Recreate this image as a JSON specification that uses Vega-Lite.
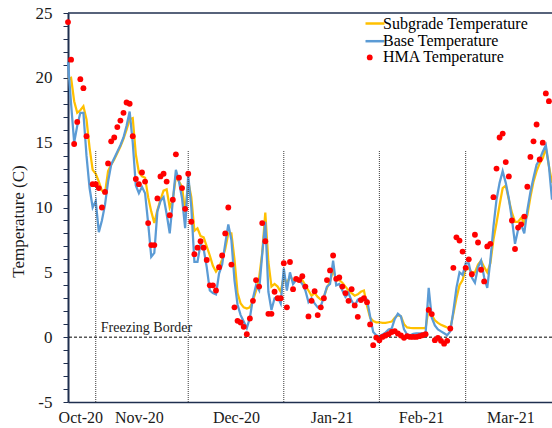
{
  "$schema": "https://vega.github.io/schema/vega-lite/v6.json",
  "width": 484,
  "height": 389,
  "autosize": {"type": "none"},
  "padding": {"left": 68, "top": 13, "right": 0, "bottom": 26},
  "background": "white",
  "config": {
    "font": "Liberation Serif",
    "view": {"stroke": null},
    "axis": {"grid": false, "labelFont": "Liberation Serif", "titleFont": "Liberation Serif", "labelColor": "#1a1a1a", "titleColor": "#1a1a1a", "domainColor": "#1f2f4f", "tickColor": "#1f2f4f", "labelFlush": false},
    "axisX": {"ticks": false, "domainWidth": 1.5, "labelFontSize": 16, "labelPadding": 7},
    "axisY": {"tickSize": 5, "tickWidth": 1, "domainWidth": 2, "labelFontSize": 17, "labelPadding": 11, "titleFontSize": 17, "titleFontWeight": "normal", "titlePadding": 8},
    "legend": {"labelFont": "Liberation Serif", "labelFontSize": 16, "labelColor": "#000000", "padding": 0, "orient": "none", "title": null}
  },
  "data": {"values": [
    {"date": "2020-10-23", "subgrade": 19.9, "base": 21.2, "hma": 24.3},
    {"date": "2020-10-24", "subgrade": 20.0, "base": 18.0, "hma": 21.4},
    {"date": "2020-10-25", "subgrade": 18.2, "base": 15.0, "hma": 14.9},
    {"date": "2020-10-26", "subgrade": 17.3, "base": 16.3, "hma": 16.6},
    {"date": "2020-10-27", "subgrade": 17.5, "base": 17.3, "hma": 19.9},
    {"date": "2020-10-28", "subgrade": 17.8, "base": 17.3, "hma": 19.2},
    {"date": "2020-10-29", "subgrade": 16.8, "base": 14.0, "hma": 15.5},
    {"date": "2020-10-30", "subgrade": 14.6, "base": 11.5, "hma": null},
    {"date": "2020-10-31", "subgrade": 12.9, "base": 10.0, "hma": 11.8},
    {"date": "2020-11-01", "subgrade": 12.6, "base": 10.5, "hma": 11.8},
    {"date": "2020-11-02", "subgrade": 12.0, "base": 8.1, "hma": 11.5},
    {"date": "2020-11-03", "subgrade": 11.3, "base": 9.0, "hma": 10.0},
    {"date": "2020-11-04", "subgrade": 11.1, "base": 10.2, "hma": 11.2},
    {"date": "2020-11-05", "subgrade": 12.8, "base": 12.0, "hma": 13.4},
    {"date": "2020-11-06", "subgrade": 13.3, "base": 13.3, "hma": 15.1},
    {"date": "2020-11-07", "subgrade": 13.7, "base": 13.8, "hma": 15.4},
    {"date": "2020-11-08", "subgrade": 14.2, "base": 14.3, "hma": 16.2},
    {"date": "2020-11-09", "subgrade": 14.7, "base": 14.8, "hma": 16.7},
    {"date": "2020-11-10", "subgrade": 15.3, "base": 15.4, "hma": 17.3},
    {"date": "2020-11-11", "subgrade": 16.0, "base": 16.3, "hma": 18.1},
    {"date": "2020-11-12", "subgrade": 16.8, "base": 17.4, "hma": 18.0},
    {"date": "2020-11-13", "subgrade": 16.9, "base": 15.0, "hma": 15.5},
    {"date": "2020-11-14", "subgrade": 14.1, "base": 11.7, "hma": 12.2},
    {"date": "2020-11-15", "subgrade": 12.7, "base": 11.1, "hma": 11.8},
    {"date": "2020-11-16", "subgrade": 12.4, "base": 11.6, "hma": 12.7},
    {"date": "2020-11-17", "subgrade": 12.3, "base": 11.1, "hma": 12.0},
    {"date": "2020-11-18", "subgrade": 10.8, "base": 8.8, "hma": 8.8},
    {"date": "2020-11-19", "subgrade": 9.7, "base": 6.2, "hma": 7.1},
    {"date": "2020-11-20", "subgrade": 8.8, "base": 6.5, "hma": 7.1},
    {"date": "2020-11-21", "subgrade": 9.8, "base": 9.7, "hma": 10.7},
    {"date": "2020-11-22", "subgrade": 10.6, "base": 10.5, "hma": 12.4},
    {"date": "2020-11-23", "subgrade": 11.3, "base": 10.8, "hma": 12.6},
    {"date": "2020-11-24", "subgrade": 11.4, "base": 9.5, "hma": 12.0},
    {"date": "2020-11-25", "subgrade": 10.0, "base": 8.0, "hma": 9.4},
    {"date": "2020-11-26", "subgrade": 10.6, "base": 10.5, "hma": 10.6},
    {"date": "2020-11-27", "subgrade": 12.4, "base": 12.9, "hma": 14.1},
    {"date": "2020-11-28", "subgrade": 12.0, "base": 12.0, "hma": 12.3},
    {"date": "2020-11-29", "subgrade": 11.6, "base": 10.7, "hma": 11.5},
    {"date": "2020-11-30", "subgrade": 9.6, "base": 8.4, "hma": 9.9},
    {"date": "2020-12-01", "subgrade": 12.0, "base": 12.5, "hma": 12.6},
    {"date": "2020-12-02", "subgrade": 10.8, "base": 10.0, "hma": 8.9},
    {"date": "2020-12-03", "subgrade": 8.2, "base": 5.8, "hma": 6.4},
    {"date": "2020-12-04", "subgrade": 8.4, "base": 5.8, "hma": 6.9},
    {"date": "2020-12-05", "subgrade": 7.8, "base": 7.2, "hma": 7.4},
    {"date": "2020-12-06", "subgrade": 7.7, "base": 6.8, "hma": 6.9},
    {"date": "2020-12-07", "subgrade": 7.0, "base": 5.4, "hma": 5.95},
    {"date": "2020-12-08", "subgrade": 6.3, "base": 3.6, "hma": 4.0},
    {"date": "2020-12-09", "subgrade": 5.5, "base": 3.4, "hma": 4.0},
    {"date": "2020-12-10", "subgrade": 5.05, "base": 3.3, "hma": 3.6},
    {"date": "2020-12-11", "subgrade": 5.4, "base": 4.9, "hma": 5.4},
    {"date": "2020-12-12", "subgrade": 6.0, "base": 5.6, "hma": 6.3},
    {"date": "2020-12-13", "subgrade": 6.8, "base": 7.2, "hma": 8.0},
    {"date": "2020-12-14", "subgrade": 8.0, "base": 8.7, "hma": 10.0},
    {"date": "2020-12-15", "subgrade": 8.0, "base": 7.5, "hma": 5.6},
    {"date": "2020-12-16", "subgrade": 6.0, "base": 4.4, "hma": 2.3},
    {"date": "2020-12-17", "subgrade": 3.4, "base": 2.5, "hma": 1.26},
    {"date": "2020-12-18", "subgrade": 2.6, "base": 1.7, "hma": 1.13},
    {"date": "2020-12-19", "subgrade": 2.3, "base": 1.2, "hma": 0.8},
    {"date": "2020-12-20", "subgrade": 2.2, "base": 0.7, "hma": 0.23},
    {"date": "2020-12-21", "subgrade": 2.3, "base": 1.5, "hma": 1.44},
    {"date": "2020-12-22", "subgrade": 2.8, "base": 3.0, "hma": 2.8},
    {"date": "2020-12-23", "subgrade": 3.6, "base": 4.0, "hma": 4.4},
    {"date": "2020-12-24", "subgrade": 4.6, "base": 3.6, "hma": 3.9},
    {"date": "2020-12-25", "subgrade": 6.5, "base": 6.4, "hma": 8.8},
    {"date": "2020-12-26", "subgrade": 9.6, "base": 8.9, "hma": 7.4},
    {"date": "2020-12-27", "subgrade": 5.8, "base": 3.5, "hma": 1.8},
    {"date": "2020-12-28", "subgrade": 3.9, "base": 2.1, "hma": 1.8},
    {"date": "2020-12-29", "subgrade": 4.1, "base": 3.0, "hma": 3.5},
    {"date": "2020-12-30", "subgrade": 3.9, "base": 3.1, "hma": 3.0},
    {"date": "2020-12-31", "subgrade": 3.5, "base": 2.6, "hma": 3.0},
    {"date": "2021-01-01", "subgrade": 4.7, "base": 5.3, "hma": 5.7},
    {"date": "2021-01-02", "subgrade": 4.1, "base": 3.6, "hma": 2.3},
    {"date": "2021-01-03", "subgrade": 4.7, "base": 5.0, "hma": 5.8},
    {"date": "2021-01-04", "subgrade": 4.4, "base": 4.1, "hma": 3.7},
    {"date": "2021-01-05", "subgrade": 4.4, "base": 4.4, "hma": 4.5},
    {"date": "2021-01-06", "subgrade": 4.5, "base": 4.4, "hma": 4.4},
    {"date": "2021-01-07", "subgrade": 4.4, "base": 4.1, "hma": 4.7},
    {"date": "2021-01-08", "subgrade": 4.0, "base": 3.6, "hma": 3.9},
    {"date": "2021-01-09", "subgrade": 3.6, "base": 2.7, "hma": 1.6},
    {"date": "2021-01-10", "subgrade": 3.2, "base": 3.0, "hma": 2.8},
    {"date": "2021-01-11", "subgrade": 3.4, "base": 2.6, "hma": 3.55},
    {"date": "2021-01-12", "subgrade": 3.1, "base": 2.3, "hma": 1.7},
    {"date": "2021-01-13", "subgrade": 2.9, "base": 2.4, "hma": 2.3},
    {"date": "2021-01-14", "subgrade": 3.1, "base": 3.1, "hma": 3.0},
    {"date": "2021-01-15", "subgrade": 3.8, "base": 3.9, "hma": 4.4},
    {"date": "2021-01-16", "subgrade": 4.3, "base": 4.1, "hma": 5.15},
    {"date": "2021-01-17", "subgrade": 5.2, "base": 5.9, "hma": 6.3},
    {"date": "2021-01-18", "subgrade": 4.4, "base": 4.0, "hma": 4.5},
    {"date": "2021-01-19", "subgrade": 4.4, "base": 4.1, "hma": 4.6},
    {"date": "2021-01-20", "subgrade": 4.2, "base": 3.6, "hma": 3.9},
    {"date": "2021-01-21", "subgrade": 3.9, "base": 3.1, "hma": 3.4},
    {"date": "2021-01-22", "subgrade": 3.6, "base": 3.4, "hma": 2.8},
    {"date": "2021-01-23", "subgrade": 3.4, "base": 2.8, "hma": 3.7},
    {"date": "2021-01-24", "subgrade": 3.2, "base": 2.4, "hma": 2.45},
    {"date": "2021-01-25", "subgrade": 3.3, "base": 2.9, "hma": 1.57},
    {"date": "2021-01-26", "subgrade": 3.5, "base": 3.0, "hma": 2.86},
    {"date": "2021-01-27", "subgrade": 3.6, "base": 3.0, "hma": 3.0},
    {"date": "2021-01-28", "subgrade": 2.4, "base": 2.9, "hma": 2.7},
    {"date": "2021-01-29", "subgrade": 1.5, "base": 1.6, "hma": 0.98},
    {"date": "2021-01-30", "subgrade": 1.25, "base": 0.4, "hma": -0.62},
    {"date": "2021-01-31", "subgrade": 1.15, "base": 0.15, "hma": -0.03},
    {"date": "2021-02-01", "subgrade": 1.15, "base": 0.05, "hma": -0.23},
    {"date": "2021-02-02", "subgrade": 1.1, "base": 0.2, "hma": 0.02},
    {"date": "2021-02-03", "subgrade": 1.1, "base": 0.35, "hma": 0.13},
    {"date": "2021-02-04", "subgrade": 1.15, "base": 0.6, "hma": 0.23},
    {"date": "2021-02-05", "subgrade": 1.2, "base": 0.67, "hma": 0.4},
    {"date": "2021-02-06", "subgrade": 1.5, "base": 1.4, "hma": 0.46},
    {"date": "2021-02-07", "subgrade": 1.7, "base": 1.8, "hma": 0.28},
    {"date": "2021-02-08", "subgrade": 1.6, "base": 1.6, "hma": 0.13},
    {"date": "2021-02-09", "subgrade": 1.0, "base": 0.6, "hma": -0.05},
    {"date": "2021-02-10", "subgrade": 0.75, "base": 0.2, "hma": 0.08},
    {"date": "2021-02-11", "subgrade": 0.72, "base": 0.15, "hma": 0.02},
    {"date": "2021-02-12", "subgrade": 0.7, "base": 0.25, "hma": 0.02},
    {"date": "2021-02-13", "subgrade": 0.7, "base": 0.3, "hma": 0.02},
    {"date": "2021-02-14", "subgrade": 0.7, "base": 0.3, "hma": 0.08},
    {"date": "2021-02-15", "subgrade": 0.7, "base": 0.3, "hma": 0.15},
    {"date": "2021-02-16", "subgrade": 0.7, "base": 0.3, "hma": 0.23},
    {"date": "2021-02-17", "subgrade": 2.2, "base": 3.8, "hma": 2.1},
    {"date": "2021-02-18", "subgrade": 1.7, "base": 1.5, "hma": 1.78},
    {"date": "2021-02-19", "subgrade": 1.3, "base": 0.9, "hma": -0.23},
    {"date": "2021-02-20", "subgrade": 1.1, "base": 0.6, "hma": -0.05},
    {"date": "2021-02-21", "subgrade": 0.95, "base": 0.45, "hma": -0.28},
    {"date": "2021-02-22", "subgrade": 0.85, "base": 0.3, "hma": -0.5},
    {"date": "2021-02-23", "subgrade": 0.75, "base": 0.15, "hma": -0.28},
    {"date": "2021-02-24", "subgrade": 0.67, "base": 0.45, "hma": 0.67},
    {"date": "2021-02-25", "subgrade": 1.8, "base": 2.0, "hma": 5.35},
    {"date": "2021-02-26", "subgrade": 3.0, "base": 3.8, "hma": 7.7},
    {"date": "2021-02-27", "subgrade": 4.0, "base": 5.0, "hma": 7.45},
    {"date": "2021-02-28", "subgrade": 4.4, "base": 4.8, "hma": 6.6},
    {"date": "2021-03-01", "subgrade": 5.3, "base": 5.7, "hma": 5.35},
    {"date": "2021-03-02", "subgrade": 5.3, "base": 5.7, "hma": 6.0},
    {"date": "2021-03-03", "subgrade": 5.0, "base": 4.6, "hma": 4.85},
    {"date": "2021-03-04", "subgrade": 5.0, "base": 4.2, "hma": 7.9},
    {"date": "2021-03-05", "subgrade": 5.6, "base": 5.4, "hma": 7.3},
    {"date": "2021-03-06", "subgrade": 5.9, "base": 5.9, "hma": 5.2},
    {"date": "2021-03-07", "subgrade": 5.4, "base": 4.6, "hma": 4.3},
    {"date": "2021-03-08", "subgrade": 5.0, "base": 3.8, "hma": 7.0},
    {"date": "2021-03-09", "subgrade": 5.7, "base": 5.9, "hma": 7.2},
    {"date": "2021-03-10", "subgrade": 7.5, "base": 8.5, "hma": 10.8},
    {"date": "2021-03-11", "subgrade": 8.8, "base": 10.6, "hma": 13.0},
    {"date": "2021-03-12", "subgrade": 10.2, "base": 11.9, "hma": 15.4},
    {"date": "2021-03-13", "subgrade": 11.5, "base": 12.8, "hma": 15.7},
    {"date": "2021-03-14", "subgrade": 11.7, "base": 11.9, "hma": 13.5},
    {"date": "2021-03-15", "subgrade": 10.6, "base": 10.7, "hma": 12.4},
    {"date": "2021-03-16", "subgrade": 9.6, "base": 9.1, "hma": 9.0},
    {"date": "2021-03-17", "subgrade": 8.9, "base": 7.2, "hma": 6.8},
    {"date": "2021-03-18", "subgrade": 8.9, "base": 8.3, "hma": 8.45},
    {"date": "2021-03-19", "subgrade": 9.2, "base": 8.7, "hma": 8.7},
    {"date": "2021-03-20", "subgrade": 8.8, "base": 8.0, "hma": 9.3},
    {"date": "2021-03-21", "subgrade": 9.4, "base": 9.8, "hma": 11.6},
    {"date": "2021-03-22", "subgrade": 10.8, "base": 11.2, "hma": 13.9},
    {"date": "2021-03-23", "subgrade": 12.0, "base": 12.3, "hma": 15.1},
    {"date": "2021-03-24", "subgrade": 12.8, "base": 13.3, "hma": 16.4},
    {"date": "2021-03-25", "subgrade": 13.4, "base": 13.7, "hma": 13.7},
    {"date": "2021-03-26", "subgrade": 13.8, "base": 14.3, "hma": 15.0},
    {"date": "2021-03-27", "subgrade": 14.6, "base": 14.8, "hma": 18.8},
    {"date": "2021-03-28", "subgrade": 13.2, "base": 13.2, "hma": 18.2},
    {"date": "2021-03-29", "subgrade": 11.9, "base": 10.6, "hma": null}
  ]},
  "resolve": {"axis": {"y": "independent"}},
  "layer": [
    {
      "mark": {"type": "line", "strokeWidth": 2.25},
      "encoding": {
        "x": {"field": "date", "type": "temporal", "scale": {"type": "utc", "domain": [{"year": 2020, "month": 10, "date": 23, "utc": true}, {"year": 2021, "month": 3, "date": 29, "utc": true}]}, "axis": {"title": null, "format": "%b-%y", "values": [
          {"year": 2020, "month": 10, "date": 27, "utc": true},
          {"year": 2020, "month": 11, "date": 15, "utc": true},
          {"year": 2020, "month": 12, "date": 16, "hours": 12, "utc": true},
          {"year": 2021, "month": 1, "date": 16, "hours": 12, "utc": true},
          {"year": 2021, "month": 2, "date": 14, "hours": 12, "utc": true},
          {"year": 2021, "month": 3, "date": 15, "hours": 12, "utc": true}
        ]}},
        "y": {"field": "subgrade", "type": "quantitative", "scale": {"domain": [-5, 25], "nice": false, "zero": false}, "axis": {"title": "Temperature (C)", "titleY": 208, "orient": "left", "values": [-5, 0, 5, 10, 15, 20, 25], "labelExpr": "toString(datum.value)"}},
        "stroke": {"datum": "Subgrade Temperature", "scale": {"domain": ["Subgrade Temperature"], "range": ["#ffc000"]}, "legend": {
          "legendX": 296, "legendY": -0.5, "labelOffset": -3, "symbolType": "stroke", "symbolSize": 361, "symbolStrokeWidth": 2.5
        }}
      }
    },
    {
      "mark": {"type": "line", "strokeWidth": 2.25},
      "encoding": {
        "x": {"field": "date", "type": "temporal"},
        "y": {"field": "base", "type": "quantitative", "axis": {"title": null, "orient": "left", "labels": false, "domain": false, "ticks": true, "tickSize": 5, "values": [-4, -3, -2, -1, 1, 2, 3, 4, 6, 7, 8, 9, 11, 12, 13, 14, 16, 17, 18, 19, 21, 22, 23, 24]}},
        "color": {"datum": "Base Temperature", "scale": {"domain": ["Base Temperature"], "range": ["#5b9bd5"]}, "legend": {
          "legendX": 296, "legendY": 17.2, "labelOffset": -3, "symbolType": "stroke", "symbolSize": 361, "symbolStrokeWidth": 2.5
        }}
      }
    },
    {
      "data": {"values": [{"date": "2020-11-01"}, {"date": "2020-12-01"}, {"date": "2021-01-01"}, {"date": "2021-02-01"}, {"date": "2021-03-01"}]},
      "mark": {"type": "rule", "color": "#3a3a3a", "strokeDash": [1, 1], "strokeWidth": 1},
      "encoding": {
        "x": {"field": "date", "type": "temporal"},
        "y": {"datum": -5, "type": "quantitative", "axis": null},
        "y2": {"datum": 14.4}
      }
    },
    {
      "data": {"values": [{"v": 0}]},
      "mark": {"type": "rule", "color": "#000000", "strokeDash": [3, 2], "strokeWidth": 1},
      "encoding": {"y": {"field": "v", "type": "quantitative", "axis": null}}
    },
    {
      "data": {"values": [{"v": 25}]},
      "mark": {"type": "rule", "color": "#1f2f4f", "strokeWidth": 1.5},
      "encoding": {"y": {"field": "v", "type": "quantitative", "axis": null}}
    },
    {
      "data": {"values": [{"date": "2020-11-02", "v": 0, "label": "Freezing Border"}]},
      "mark": {"type": "text", "align": "left", "baseline": "alphabetic", "dx": 2, "dy": -5, "fontSize": 14, "font": "Liberation Serif", "color": "#1a1a1a"},
      "encoding": {
        "x": {"field": "date", "type": "temporal"},
        "y": {"field": "v", "type": "quantitative", "axis": null},
        "text": {"field": "label"}
      }
    },
    {
      "mark": {"type": "point", "filled": true, "size": 34, "opacity": 1},
      "encoding": {
        "x": {"field": "date", "type": "temporal"},
        "y": {"field": "hma", "type": "quantitative", "axis": null},
        "fill": {"datum": "HMA Temperature", "scale": {"domain": ["HMA Temperature"], "range": ["#ff0000"]}, "legend": {
          "legendX": 293.75, "legendY": 36.4, "labelOffset": 5.25, "symbolType": "circle", "symbolSize": 34, "symbolStrokeWidth": 0
        }}
      }
    }
  ]
}
